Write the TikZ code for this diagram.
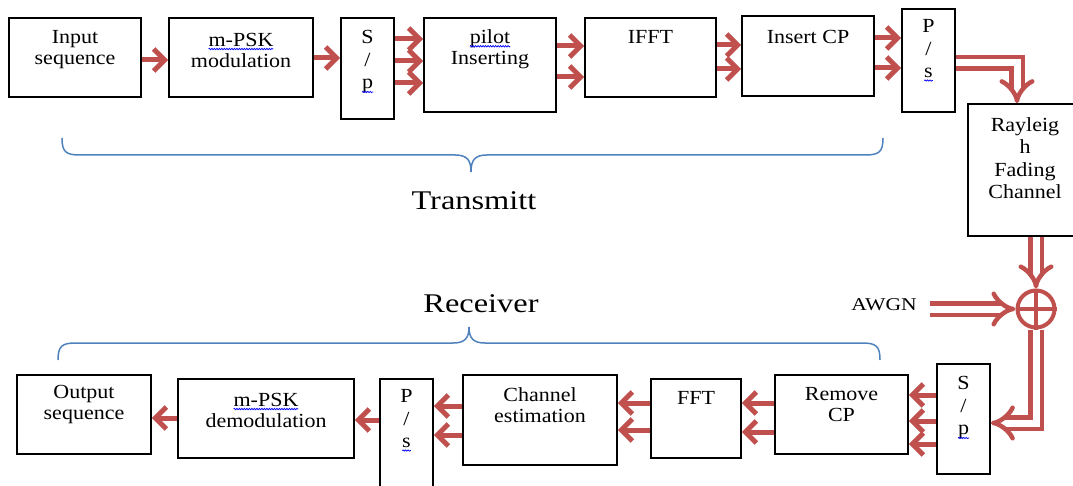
\documentclass[tikz,border=0pt]{standalone}
\usepackage{fontspec}
\setmainfont[FakeStretch=1.1]{Liberation Serif}
\newfontfamily\titlefont[FakeStretch=1.2]{Liberation Serif}
\usetikzlibrary{arrows.meta,decorations.pathmorphing}

\definecolor{arrred}{RGB}{192,80,77}
\definecolor{braceblue}{RGB}{79,129,189}

% spell-check squiggle under a word
\newcommand{\wavy}[1]{\tikz[baseline=(w.base)]{\node[inner sep=0pt,outer sep=0pt] (w) {#1};
  \draw[blue,line width=0.7pt,decorate,decoration={snake,amplitude=0.7pt,segment length=2.5pt}]
    ([yshift=-3pt]w.base west) -- ([yshift=-3pt]w.base east);}}

\tikzset{
  box/.style={draw, line width=1.6, inner sep=0pt},
  txt/.style={align=center, inner sep=0pt, font=\fontsize{20}{21}\selectfont},
  vtxt/.style={align=center, inner sep=0pt, font=\fontsize{20}{22.5}\selectfont},
  arr/.style={draw=arrred, line width=5, -{Straight Barb[length=11pt,width=22pt]}},
  dbl/.style={draw=arrred, line width=4.5, double=white, double distance=7, -{Implies[scale=1.6]}},
  brace/.style={draw=braceblue, line width=1.5},
}

\begin{document}
\begin{tikzpicture}[x=1pt,y=-1pt]
    \useasboundingbox (0,0) rectangle (1073,486);
    \clip (0,0) rectangle (1073,486);

    % transmitter
    \node[box, minimum width=132, minimum height=79] (inp) at (75,57.5) {};
    \node[box, minimum width=144, minimum height=79] (mod) at (241,57.5) {};
    \node[box, minimum width=53, minimum height=101] (sp1) at (367.5,68.5) {};
    \node[box, minimum width=132, minimum height=94] (pil) at (490,65) {};
    \node[box, minimum width=131, minimum height=79] (ifft) at (650.5,57.5) {};
    \node[box, minimum width=132, minimum height=80] (icp) at (808,56) {};
    \node[box, minimum width=53, minimum height=103] (ps1) at (928.5,60.5) {};
    \node[box, minimum width=114, minimum height=132] (ray) at (1025,170) {};

    \node[txt] (inpT) at (75,50) {Input\\sequence};
    \node[txt] (modT) at (241,50) {\wavy{m-PSK}\\modulation};
    \node[vtxt] (sp1T) at (367.5,62) {S\\/\\\wavy{p}};
    \node[txt] (pilT) at (490,49) {\wavy{pilot}\\Inserting};
    \node[txt] (ifftT) at (650.5,37) {IFFT};
    \node[txt] (icpT) at (808,37) {Insert CP};
    \node[vtxt] (ps1T) at (928.5,50.5) {P\\/\\\wavy{s}};
    \node[vtxt] (rayT) at (1025,158) {Rayleig\\h\\Fading\\Channel};

    \draw[arr] (inp.east |- 0,60) -- (mod.west |- 0,60);
    \draw[arr] (mod.east |- 0,58) -- (sp1.west |- 0,58);
    \draw[arr] (sp1.east |- 0,39) -- (pil.west |- 0,39);
    \draw[arr] (sp1.east |- 0,61) -- (pil.west |- 0,61);
    \draw[arr] (sp1.east |- 0,83) -- (pil.west |- 0,83);
    \draw[arr] (pil.east |- 0,46) -- (ifft.west |- 0,46);
    \draw[arr] (pil.east |- 0,77) -- (ifft.west |- 0,77);
    \draw[arr] (ifft.east |- 0,45) -- (icp.west |- 0,45);
    \draw[arr] (ifft.east |- 0,69) -- (icp.west |- 0,69);
    \draw[arr] (icp.east |- 0,38) -- (ps1.west |- 0,38);
    \draw[arr] (icp.east |- 0,68) -- (ps1.west |- 0,68);

    % channel
    \node[draw=arrred, line width=4, circle, minimum size=37, inner sep=0pt] (add) at (1036,309) {};
    \draw[arrred, line width=3.5] (add.north) -- (add.south) (add.west) -- (add.east);
    \node[txt, font=\titlefont\fontsize{18}{18}\selectfont, anchor=east] (awgn) at (917,305) {AWGN};

    \draw[dbl] (ps1.east |- 0,63) -| (ray.north -| 1017,0);
    \draw[dbl] (ray.south -| add) -- (add.north);
    \draw[dbl] (awgn.east) ++(13,4) -- (add.west);

    % receiver
    \node[box, minimum width=134, minimum height=79] (out) at (84,414.5) {};
    \node[box, minimum width=176, minimum height=79] (dem) at (266,418.5) {};
    \node[box, minimum width=53, minimum height=121] (ps2) at (406.5,439.5) {};
    \node[box, minimum width=154, minimum height=90] (che) at (540,420) {};
    \node[box, minimum width=90, minimum height=79] (fft) at (696,418.5) {};
    \node[box, minimum width=133, minimum height=79] (rcp) at (841.5,414.5) {};
    \node[box, minimum width=53, minimum height=110] (sp2) at (963.5,419) {};

    \node[txt] (outT) at (84,405) {Output\\sequence};
    \node[txt] (demT) at (266,410) {\wavy{m-PSK}\\demodulation};
    \node[vtxt] (ps2T) at (406.5,420.5) {P\\/\\\wavy{s}};
    \node[txt] (cheT) at (540,405) {Channel\\estimation};
    \node[txt] (fftT) at (696,398) {FFT};
    \node[txt] (rcpT) at (841.5,405) {Remove\\CP};
    \node[vtxt] (sp2T) at (963.5,408) {S\\/\\\wavy{p}};

    \draw[dbl] (add.south) |- ([yshift=-4pt]sp2.east);

    \draw[arr] (sp2.west |- 0,395) -- (rcp.east |- 0,395);
    \draw[arr] (sp2.west |- 0,421) -- (rcp.east |- 0,421);
    \draw[arr] (sp2.west |- 0,444) -- (rcp.east |- 0,444);
    \draw[arr] (rcp.west |- 0,403) -- (fft.east |- 0,403);
    \draw[arr] (rcp.west |- 0,432) -- (fft.east |- 0,432);
    \draw[arr] (fft.west |- 0,403) -- (che.east |- 0,403);
    \draw[arr] (fft.west |- 0,430) -- (che.east |- 0,430);
    \draw[arr] (che.west |- 0,406) -- (ps2.east |- 0,406);
    \draw[arr] (che.west |- 0,435) -- (ps2.east |- 0,435);
    \draw[arr] (ps2.west |- 0,420) -- (dem.east |- 0,420);
    \draw[arr] (dem.west |- 0,418) -- (out.east |- 0,418);

    % braces and titles
    \draw[brace] (62,138) .. controls (62,152) and (66,155) .. (80,155) -- (455,155)
        .. controls (467,155) and (471,160) .. (471,172)
        .. controls (471,160) and (475,155) .. (487,155) -- (865,155)
        .. controls (879,155) and (883,152) .. (883,138);
    \node[font=\titlefont\fontsize{27}{27}\selectfont, inner sep=0pt] (tx) at (474,201) {Transmitt};

    \draw[brace] (58,360) .. controls (58,346) and (62,343) .. (76,343) -- (453,343)
        .. controls (465,343) and (469,338) .. (469,327)
        .. controls (469,338) and (473,343) .. (485,343) -- (862,343)
        .. controls (876,343) and (880,346) .. (880,360);
    \node[font=\titlefont\fontsize{27}{27}\selectfont, inner sep=0pt] (rx) at (481,304) {Receiver};
\end{tikzpicture}
\end{document}
